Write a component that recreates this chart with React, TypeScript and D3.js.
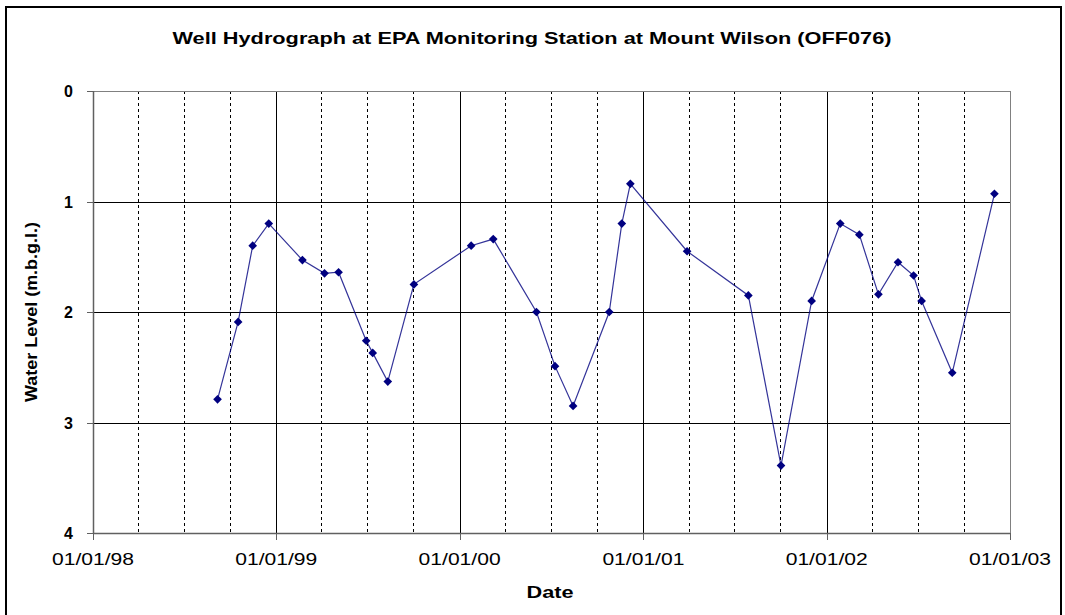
import React from "react";
import * as d3 from "d3";

const dates: string[] = [
  "1998-09-06", "1998-10-17", "1998-11-15", "1998-12-17", "1999-02-22", "1999-04-07",
  "1999-05-05", "1999-06-29", "1999-07-12", "1999-08-11", "1999-10-02", "2000-01-24",
  "2000-03-08", "2000-06-02", "2000-07-09", "2000-08-14", "2000-10-25", "2000-11-19",
  "2000-12-06", "2001-03-29", "2001-07-29", "2001-10-02", "2001-12-02", "2002-01-28",
  "2002-03-07", "2002-04-14", "2002-05-23", "2002-06-23", "2002-07-09", "2002-09-08",
  "2002-12-01",
];
const levels: number[] = [
  2.79, 2.09, 1.40, 1.20, 1.53, 1.65, 1.64, 2.26, 2.37, 2.63, 1.75, 1.40,
  1.34, 2.00, 2.49, 2.85, 2.00, 1.20, 0.84, 1.45, 1.85, 3.39, 1.90, 1.20,
  1.30, 1.84, 1.55, 1.67, 1.90, 2.55, 0.93,
];
const yTicks: number[] = [0, 1, 2, 3, 4];
const xTickLabels: string[] = ["01/01/98", "01/01/99", "01/01/00", "01/01/01", "01/01/02", "01/01/03"];
const title = "Well Hydrograph at EPA Monitoring Station at Mount Wilson (OFF076)";
const yTitle = "Water Level (m.b.g.l.)";
const xTitle = "Date";

const parse = d3.timeParse("%Y-%m-%d");
const fmt = d3.timeFormat("%d/%m/%y");

export default function App() {
  const W = 1065, H = 615;
  const left = 93, right = 1010, top = 91, bottom = 533;
  const start = parse("1998-01-01")!;
  const end = parse("2003-01-01")!;
  const x = d3.scaleTime().domain([start, end]).range([left, right]);
  const y = d3.scaleLinear().domain([0, 4]).range([top, bottom]);

  const pts = dates.map((d, i) => ({ d: parse(d)!, v: levels[i] }));
  const line = d3.line<{ d: Date; v: number }>().x((p) => x(p.d)).y((p) => y(p.v));

  const years = d3.timeYear.range(start, d3.timeDay.offset(end, 1));
  const quarters = d3.timeMonth.every(3)!.range(start, end).filter((q) => q.getMonth() !== 0);

  const font = "'Liberation Sans', Arial, sans-serif";
  const diamond = d3.symbol().type(d3.symbolDiamond2 ?? d3.symbolDiamond).size(48)();

  return (
    <div style={{ position: "absolute", left: 0, top: 0 }}>
      <svg width={W} height={H} style={{ display: "block", background: "#fff" }}>
        <rect x={6} y={7} width={1055} height={620} fill="#fff" stroke="#000" strokeWidth={2} />
        <text x={532} y={44} textAnchor="middle" fontFamily={font} fontWeight="bold" fontSize={17}
          textLength={719} lengthAdjust="spacingAndGlyphs">{title}</text>

        {quarters.map((q, i) => (
          <line key={"q" + i} x1={Math.round(x(q)) + 0.5} x2={Math.round(x(q)) + 0.5} y1={top} y2={bottom}
            stroke="#000" strokeWidth={1} strokeDasharray="3,3" />
        ))}
        {years.slice(1, -1).map((q, i) => (
          <line key={"yr" + i} x1={Math.round(x(q)) + 0.5} x2={Math.round(x(q)) + 0.5} y1={top} y2={bottom}
            stroke="#000" strokeWidth={1} />
        ))}
        {yTicks.slice(1, -1).map((t) => (
          <line key={"h" + t} x1={left} x2={right} y1={Math.round(y(t)) + 0.5} y2={Math.round(y(t)) + 0.5}
            stroke="#000" strokeWidth={1} />
        ))}
        <rect x={left + 0.5} y={top + 0.5} width={right - left} height={bottom - top} fill="none" stroke="#808080" strokeWidth={1} />
        <line x1={left + 0.5} x2={left + 0.5} y1={top} y2={bottom} stroke="#606060" strokeWidth={1.5} />
        <line x1={left} x2={right} y1={bottom + 0.5} y2={bottom + 0.5} stroke="#606060" strokeWidth={1.5} />

        {yTicks.map((t) => (
          <g key={"yt" + t}>
            <line x1={left - 6} x2={left} y1={Math.round(y(t)) + 0.5} y2={Math.round(y(t)) + 0.5} stroke="#606060" />
            <text x={73} y={y(t) + 6} textAnchor="end" fontFamily={font} fontWeight="bold" fontSize={16}>{t}</text>
          </g>
        ))}
        {years.map((d, i) => (
          <g key={"xt" + i}>
            <line x1={Math.round(x(d)) + 0.5} x2={Math.round(x(d)) + 0.5} y1={bottom} y2={bottom + 7} stroke="#606060" />
            <text x={x(d)} y={565} textAnchor="middle" fontFamily={font} fontSize={16}
              textLength={82} lengthAdjust="spacingAndGlyphs">{xTickLabels[i] ?? fmt(d)}</text>
          </g>
        ))}

        <text transform={`translate(37,312) rotate(-90)`} textAnchor="middle" fontFamily={font} fontWeight="bold"
          fontSize={17} textLength={180} lengthAdjust="spacingAndGlyphs">{yTitle}</text>
        <text x={550} y={598} textAnchor="middle" fontFamily={font} fontWeight="bold" fontSize={17}
          textLength={47} lengthAdjust="spacingAndGlyphs">{xTitle}</text>

        <path d={line(pts) ?? ""} fill="none" stroke="#000080" strokeWidth={1.2} strokeOpacity={0.8} />
        {pts.map((p, i) => (
          <path key={"m" + i} d={diamond ?? ""} transform={`translate(${x(p.d)},${y(p.v)})`} fill="#000080" />
        ))}
      </svg>
    </div>
  );
}
